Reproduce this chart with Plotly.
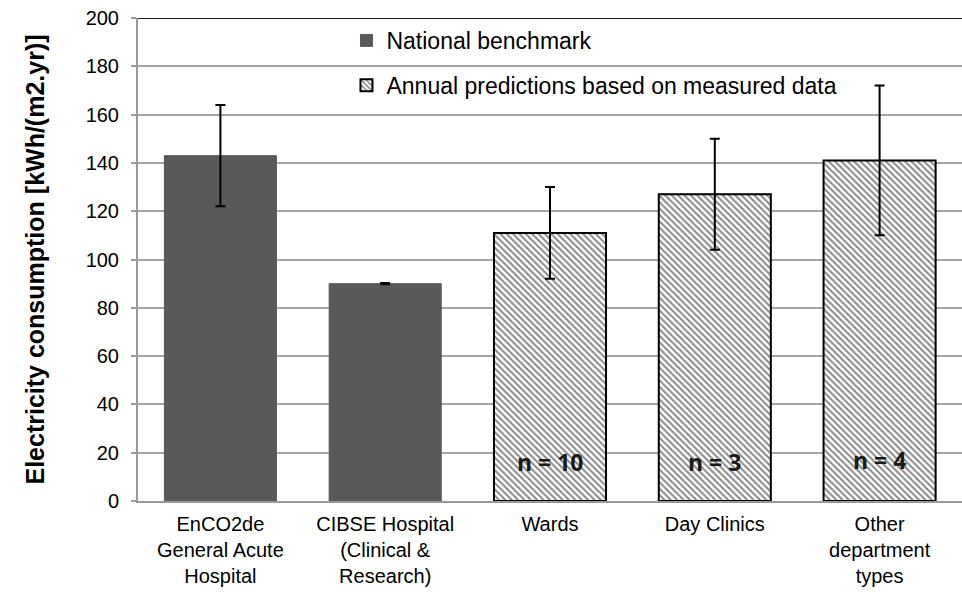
import plotly.graph_objects as go

categories = ["EnCO2de<br>General Acute<br>Hospital",
              "CIBSE Hospital<br>(Clinical &<br>Research)",
              "Wards", "Day Clinics",
              "Other<br>department<br>types"]

bench_cats = categories[:2]
bench_vals = [143, 90]
bench_err = [21, 0.3]

pred_cats = categories[2:]
pred_vals = [111, 127, 141]
pred_err = [19, 23, 31]
n_labels = ["n = 10", "n = 3", "n = 4"]
n_label_y = [16, 16, 17]

fig = go.Figure()
fig.add_trace(go.Bar(
    x=bench_cats, y=bench_vals, name="National benchmark",
    width=0.68, legendgroup="a",
    marker=dict(color="#595959", line=dict(color="#595959", width=1)),
    error_y=dict(type="data", array=bench_err, color="black", thickness=2, width=5),
))
fig.add_trace(go.Bar(
    x=pred_cats, y=pred_vals, name="Annual predictions based on measured data",
    width=0.68, legendgroup="b",
    marker=dict(color="white", line=dict(color="black", width=2),
                pattern=dict(shape="\\", size=4.5, solidity=0.45,
                             fgcolor="#111", bgcolor="white", fillmode="overlay")),
    error_y=dict(type="data", array=pred_err, color="black", thickness=2, width=5),
))

for c, t, yy in zip(pred_cats, n_labels, n_label_y):
    fig.add_annotation(x=c, y=yy, text=t, showarrow=False,
                       font=dict(family="Open Sans", size=23, color="#1a1a1a", weight="bold"))

fig.add_shape(type="line", xref="paper", yref="y", x0=0, x1=1, y0=200, y1=200,
              line=dict(color="#222", width=2))

fig.update_layout(
    width=962, height=598,
    margin=dict(l=138, r=0, t=18, b=97),
    paper_bgcolor="white", plot_bgcolor="white",
    barmode="overlay",
    showlegend=True,
    legend=dict(x=0.253, y=0.998, xanchor="left", yanchor="top",
                bgcolor="rgba(0,0,0,0)", tracegroupgap=12,
                font=dict(family="Liberation Sans, Arial", size=23, color="black"),
                itemwidth=30),
    font=dict(family="Liberation Sans, Arial", size=20, color="black"),
    xaxis=dict(showline=True, linecolor="#999", linewidth=2, ticks="",
               tickfont=dict(size=20), showgrid=False, ticklabelstandoff=4),
    yaxis=dict(range=[0, 200], dtick=20, showgrid=True, gridcolor="#a6a6a6", gridwidth=2,
               showline=True, linecolor="#999", linewidth=2, ticks="outside",
               ticklen=5, tickcolor="#999", tickwidth=2,
               tickfont=dict(size=20), zeroline=False, ticklabelstandoff=8,
               title=dict(text="Electricity consumption [kWh/(m2.yr)]",
                          font=dict(size=25, weight="bold"), standoff=34)),
)

fig.write_html("out.html")
